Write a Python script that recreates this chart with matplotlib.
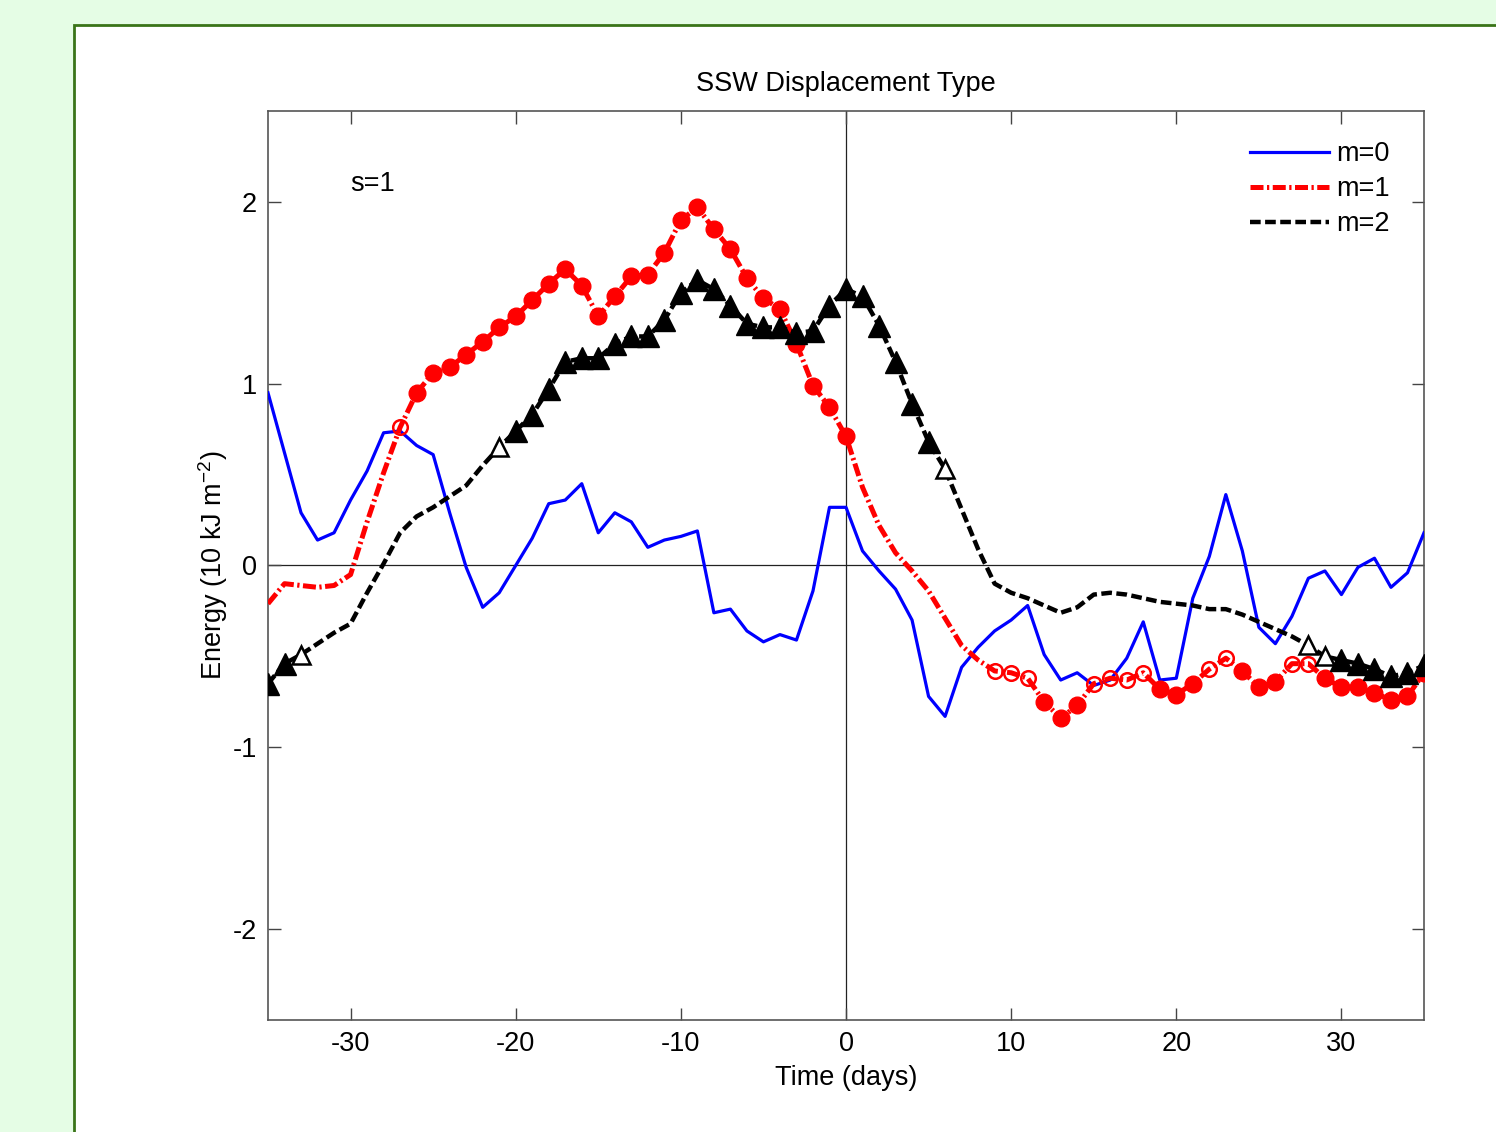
import numpy as np
import matplotlib
matplotlib.use("Agg")
import matplotlib.pyplot as plt
from matplotlib.lines import Line2D
from matplotlib.patches import Rectangle

plt.rcParams['font.family'] = ['Liberation Sans', 'DejaVu Sans']
plt.rcParams['mathtext.default'] = 'regular'
plt.rcParams['axes.unicode_minus'] = False

# ---------------- data ----------------
days = np.arange(-35, 36)

m0 = [0.95, 0.62, 0.29, 0.14, 0.18, 0.36, 0.52, 0.73, 0.74, 0.66,
      0.61, 0.29, -0.01, -0.23, -0.15, 0.00, 0.15, 0.34, 0.36, 0.45,
      0.18, 0.29, 0.24, 0.10, 0.14, 0.16, 0.19, -0.26, -0.24, -0.36,
      -0.42, -0.38, -0.41, -0.14, 0.32, 0.32, 0.08, -0.03, -0.13, -0.30,
      -0.72, -0.83, -0.56, -0.45, -0.36, -0.30, -0.22, -0.49, -0.63, -0.59,
      -0.66, -0.63, -0.51, -0.31, -0.63, -0.62, -0.18, 0.05, 0.39, 0.08,
      -0.34, -0.43, -0.28, -0.07, -0.03, -0.16, -0.01, 0.04, -0.12, -0.04,
      0.18]

m1 = [-0.21, -0.10, -0.11, -0.12, -0.11, -0.05, 0.24, 0.51, 0.76, 0.95,
      1.06, 1.09, 1.16, 1.23, 1.31, 1.37, 1.46, 1.55, 1.63, 1.54,
      1.37, 1.48, 1.59, 1.60, 1.72, 1.90, 1.97, 1.85, 1.74, 1.58,
      1.47, 1.41, 1.22, 0.99, 0.87, 0.71, 0.43, 0.22, 0.07, -0.03,
      -0.14, -0.29, -0.44, -0.52, -0.58, -0.59, -0.62, -0.75, -0.84, -0.77,
      -0.65, -0.62, -0.63, -0.59, -0.68, -0.71, -0.65, -0.57, -0.51, -0.58,
      -0.67, -0.64, -0.54, -0.54, -0.62, -0.67, -0.67, -0.70, -0.74, -0.72,
      -0.59]

m2 = [-0.65, -0.54, -0.49, -0.43, -0.37, -0.32, -0.15, 0.01, 0.18, 0.27,
      0.32, 0.38, 0.44, 0.55, 0.65, 0.74, 0.83, 0.97, 1.12, 1.14,
      1.14, 1.22, 1.26, 1.26, 1.35, 1.50, 1.57, 1.52, 1.43, 1.33,
      1.31, 1.31, 1.28, 1.29, 1.43, 1.52, 1.48, 1.32, 1.12, 0.89,
      0.68, 0.53, 0.31, 0.09, -0.10, -0.15, -0.18, -0.22, -0.26, -0.23,
      -0.16, -0.15, -0.16, -0.18, -0.20, -0.21, -0.22, -0.24, -0.24, -0.27,
      -0.31, -0.35, -0.39, -0.44, -0.50, -0.52, -0.54, -0.57, -0.61, -0.59,
      -0.55]

# significance flags: 0 = none, 1 = filled marker, 2 = open marker
m1_sig = ([0] * 8 + [2] + [1] * 27 + [0] * 8 + [2] * 3 + [1] * 3 + [2] * 4 +
          [1] * 3 + [2] * 2 + [1] * 3 + [2] * 2 + [1] * 7)
m2_sig = ([1] * 2 + [2] + [0] * 11 + [2] + [1] * 26 + [2] + [0] * 21 +
          [2] * 2 + [1] * 6)

labels = ['m=0', 'm=1', 'm=2']
xticks = [-30, -20, -10, 0, 10, 20, 30]
yticks = [-2, -1, 0, 1, 2]

# ---------------- figure ----------------
W, H = 1496, 1132
fig = plt.figure(figsize=(W / 100, H / 100), dpi=100, facecolor='#e5fde5')
panel = Rectangle((74 / W, -0.05), 1.2, 1 - 25 / H + 0.05, transform=fig.transFigure,
                  facecolor='white', edgecolor='#3a7418', linewidth=2.0, zorder=-10)
fig.patches.append(panel)

ax = fig.add_axes([268 / W, 1 - 1020 / H, (1424 - 268) / W, (1020 - 111) / H])
ax.set_facecolor('white')

FS = 19.5

ax.axhline(0, color='#222222', lw=0.9, zorder=1)
ax.axvline(0, color='#222222', lw=0.9, zorder=1)

x = np.asarray(days)
y0 = np.asarray(m0); y1 = np.asarray(m1); y2 = np.asarray(m2)
s1 = np.asarray(m1_sig); s2 = np.asarray(m2_sig)

ax.plot(x, y0, color='#0000ff', lw=2.3, zorder=3)

ax.plot(x, y1, color='#ff0000', lw=3.6, dashes=(2.6, 0.7, 0.45, 0.7), zorder=4)
ax.plot(x[s1 == 1], y1[s1 == 1], ls='none', marker='o', ms=12,
        mfc='#ff0000', mec='#ff0000', mew=1, zorder=5)
ax.plot(x[s1 == 2], y1[s1 == 2], ls='none', marker='o', ms=10.5,
        mfc='none', mec='#ff0000', mew=1.8, zorder=5)

ax.plot(x, y2, color='black', lw=3.2, dashes=(2.4, 1.0), zorder=6)
ax.plot(x[s2 == 1], y2[s2 == 1], ls='none', marker='^', ms=16,
        mfc='black', mec='black', mew=1, zorder=7)
ax.plot(x[s2 == 2], y2[s2 == 2], ls='none', marker='^', ms=13.5,
        mfc='white', mec='black', mew=1.8, zorder=7)

ax.set_xlim(-35, 35)
ax.set_ylim(-2.5, 2.5)
ax.set_xticks(xticks)
ax.set_yticks(yticks)
ax.set_xticklabels([str(t) for t in xticks])
ax.set_yticklabels([str(t) for t in yticks])
ax.tick_params(direction='in', length=9, width=1, colors='#444444',
               labelcolor='black', labelsize=FS, top=True, right=True, pad=8)
for sp in ax.spines.values():
    sp.set_color('#555555')
    sp.set_linewidth(1.2)

ax.set_title('SSW Displacement Type', fontsize=FS, pad=14.5)
ax.set_xlabel('Time (days)', fontsize=FS, labelpad=6)
ax.set_ylabel('Energy (10 kJ m$^{-2}$)', fontsize=FS, labelpad=2)

ax.text(-30, 2.1, 's=1', fontsize=FS, ha='left', va='center')

handles = [
    Line2D([], [], color='#0000ff', lw=2.3),
    Line2D([], [], color='#ff0000', lw=3.6, dashes=(2.6, 0.7, 0.45, 0.7)),
    Line2D([], [], color='black', lw=3.2, dashes=(2.4, 1.0)),
]
ax.legend(handles, labels, loc='upper left',
          bbox_to_anchor=((1250 - 268) / 1156, (1020 - 141) / 909),
          frameon=False, fontsize=FS, handlelength=2.9, handletextpad=0.3,
          labelspacing=0.34, borderpad=0, borderaxespad=0)

fig.savefig('out.png', dpi=100, facecolor=fig.get_facecolor())
